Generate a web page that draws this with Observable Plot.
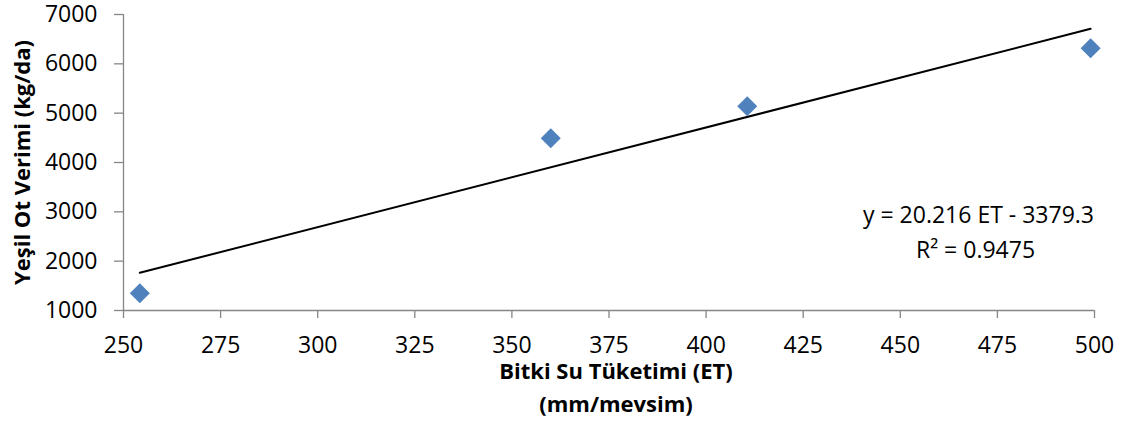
<!DOCTYPE html>
<html>
<head>
<meta charset="utf-8">
<script src="https://cdn.jsdelivr.net/npm/d3@7"></script>
<script src="https://cdn.jsdelivr.net/npm/@observablehq/plot@0.6"></script>
<style>
  html, body { margin: 0; padding: 0; background: #fff; }
  #chart svg { display: block; }
</style>
</head>
<body>
<div id="chart"></div>
<script>
// Data
const et = [254.2, 360, 410.6, 499];           // Bitki Su Tüketimi (ET), mm/mevsim
const yieldKg = [1351, 4493, 5141, 6317];      // Yeşil Ot Verimi, kg/da
const xTicks = [250, 275, 300, 325, 350, 375, 400, 425, 450, 475, 500];
const yTicks = [1000, 2000, 3000, 4000, 5000, 6000, 7000];
const equationLines = ["y = 20.216 ET - 3379.3", "R² = 0.9475"];
const xTitleLines = ["Bitki Su Tüketimi (ET)", "(mm/mevsim)"];
const yTitle = "Yeşil Ot Verimi (kg/da)";

const data = et.map((x, i) => ({x, y: yieldKg[i]}));

const font = "'Open Sans', sans-serif";
const axisGray = "#868686";

const chart = Plot.plot({
  width: 1128,
  height: 425,
  marginLeft: 123,
  marginRight: 34,
  marginTop: 14,
  marginBottom: 115,
  style: {fontFamily: font, fontSize: "22px", color: "#000", background: "#fff"},
  x: {domain: [250, 500]},
  y: {domain: [1000, 7000]},
  marks: [
    Plot.ruleX([250], {stroke: axisGray, strokeWidth: 1.3}),
    Plot.ruleY([1000], {stroke: axisGray, strokeWidth: 1.3}),
    Plot.axisX(xTicks, {ticks: xTicks, tickSize: 8, stroke: axisGray, strokeWidth: 1.3, label: null, tickFormat: () => ""}),
    Plot.axisY(yTicks, {ticks: yTicks, tickSize: 9, stroke: axisGray, strokeWidth: 1.3, label: null, tickFormat: () => ""}),
    Plot.text(xTicks, {x: d => d, frameAnchor: "bottom", lineAnchor: "middle", dy: 35, text: d => String(d), fontSize: 23, fill: "#000"}),
    Plot.text(yTicks, {y: d => d, frameAnchor: "left", lineAnchor: "middle", dx: -26, textAnchor: "end", text: d => String(d), fontSize: 23, fill: "#000"}),
    Plot.linearRegressionY(data, {x: "x", y: "y", ci: 0, stroke: "#000", strokeWidth: 2}),
    Plot.dot(data, {x: "x", y: "y", symbol: "diamond2", r: 9, fill: "#4F81BD", stroke: "none"}),
    Plot.text([equationLines[0]], {frameAnchor: "top-right", lineAnchor: "middle", dy: 201, dx: -116, text: d => d, fontSize: 23, textAnchor: "middle"}),
    Plot.text([equationLines[1]], {frameAnchor: "top-right", lineAnchor: "middle", dy: 236, dx: -119, text: d => d, fontSize: 23, textAnchor: "middle"}),
    Plot.text([xTitleLines[0]], {frameAnchor: "bottom", lineAnchor: "middle", dy: 61, dx: 7, text: d => d, fontSize: 22, fontWeight: "bold"}),
    Plot.text([xTitleLines[1]], {frameAnchor: "bottom", lineAnchor: "middle", dy: 94, dx: 7, text: d => d, fontSize: 22, fontWeight: "bold"}),
    Plot.text([yTitle], {frameAnchor: "left", dx: -101, dy: 0, rotate: -90, textAnchor: "middle", text: d => d, fontSize: 22, fontWeight: "bold"})
  ]
});

document.getElementById("chart").appendChild(chart);
</script>
</body>
</html>
